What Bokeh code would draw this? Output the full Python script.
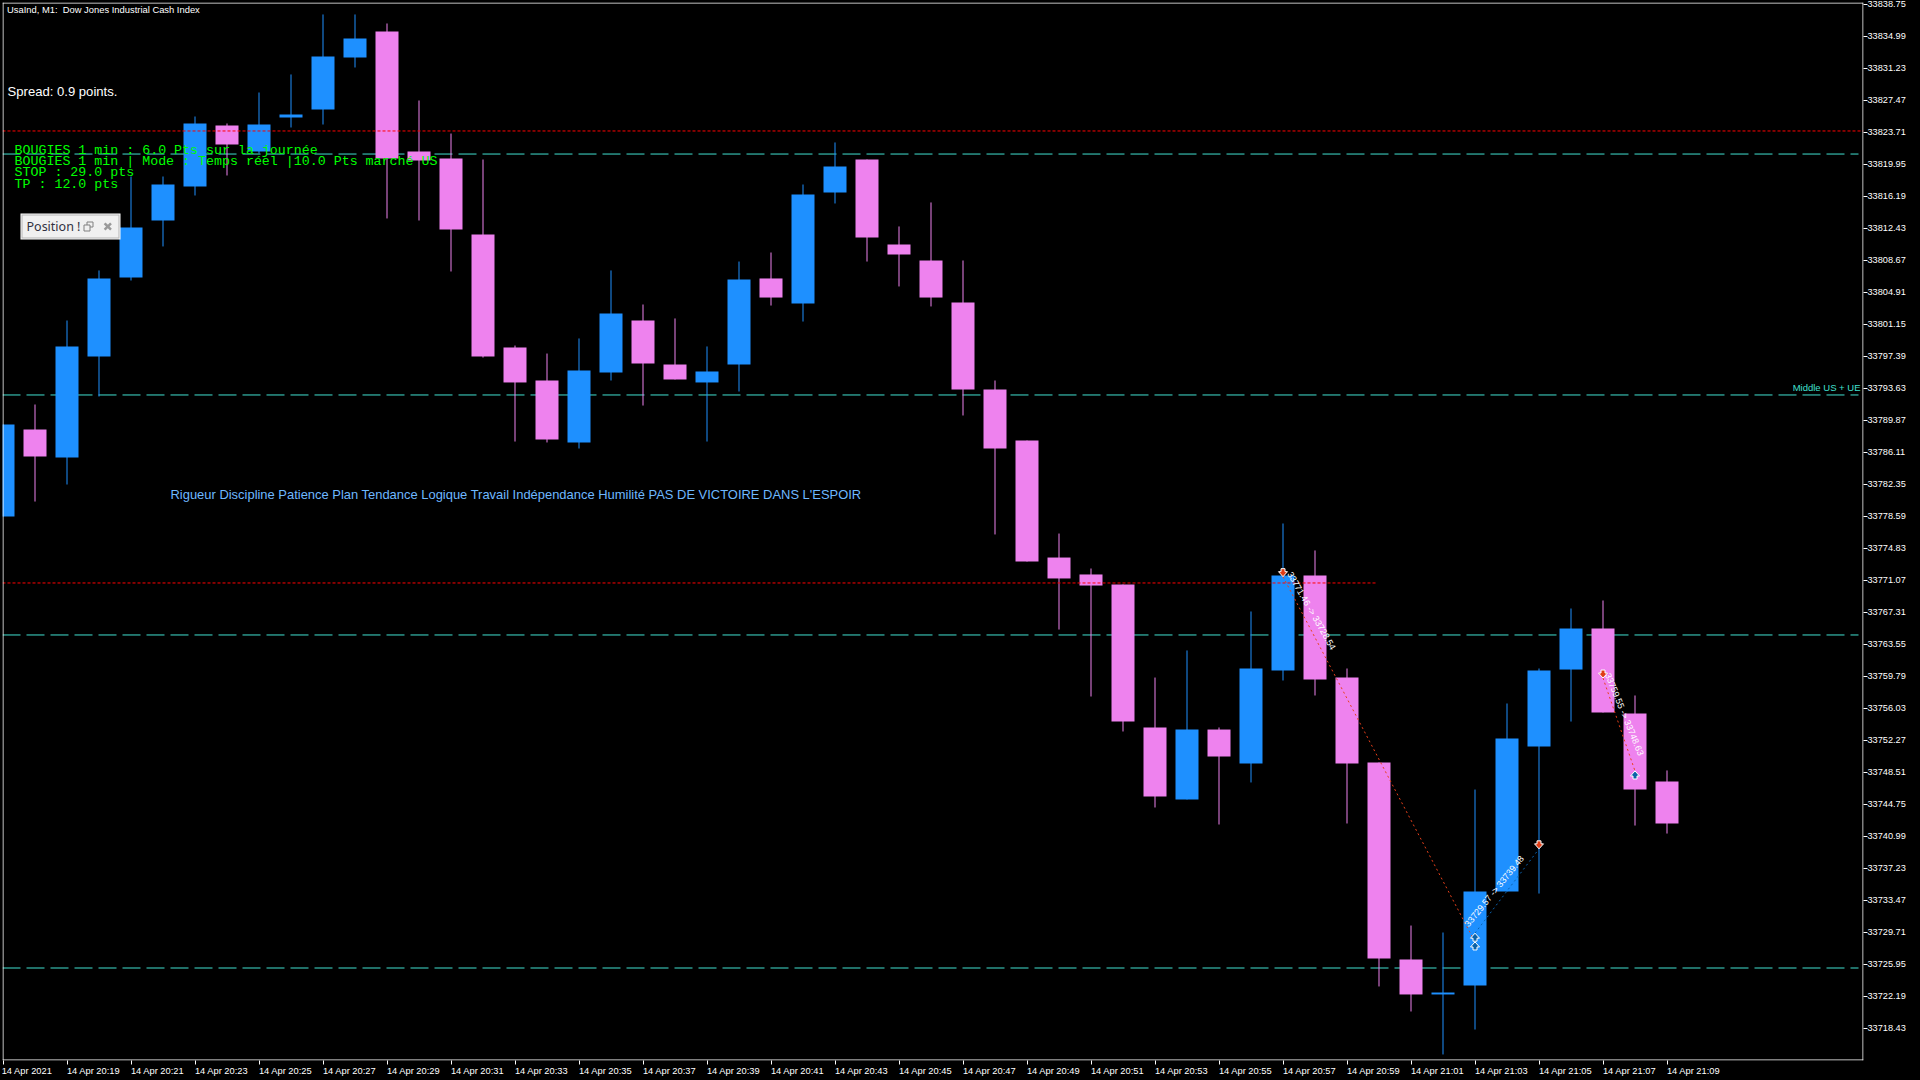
from bokeh.plotting import figure
from bokeh.embed import file_html
from bokeh.resources import INLINE
from bokeh.core.properties import value
from bokeh.models import Range1d, FixedTicker, NumeralTickFormatter, Span

opens = [33778.53,33788.75,33785.46,33797.33,33806.61,33813.31,33817.31,33824.47,33821.42,33825.41,33826.35,33832.46,33835.52,
         33821.42,33820.60,33811.67,33798.39,33794.51,33787.23,33795.45,33801.56,33796.39,33794.28,33796.39,33806.50,33803.56,33816.60,
         33820.48,33810.49,33808.61,33803.68,33793.45,33787.46,33773.71,33771.72,33770.54,33753.74,33745.28,33753.50,33749.51,33760.44,
         33771.60,33759.61,33749.63,33726.48,33722.37,33723.42,33734.47,33751.51,33760.55,33765.37,33755.38,33747.39]
closes = [33789.34,33785.58,33798.51,33806.50,33812.49,33817.54,33824.71,33822.24,33824.59,33825.77,33832.58,33834.70,33820.60,
          33820.36,33812.25,33797.33,33794.28,33787.58,33795.69,33802.38,33796.51,33794.63,33795.57,33806.38,33804.26,33816.37,33819.66,
          33811.31,33809.32,33804.26,33793.45,33786.52,33773.24,33771.25,33770.42,33754.44,33745.63,33753.50,33750.33,33760.67,33771.60,
          33759.38,33749.51,33726.60,33722.37,33722.60,33734.47,33752.45,33760.44,33765.37,33755.50,33746.45,33742.46]
highs = [33789.34,33791.69,33801.56,33807.44,33818.48,33818.48,33825.53,33824.71,33828.35,33830.47,33837.52,33837.52,33836.46,
         33827.41,33823.53,33820.48,33798.62,33797.68,33799.45,33807.44,33803.44,33801.80,33798.51,33808.49,33809.55,33817.54,33822.48,
         33820.48,33812.61,33815.43,33808.61,33794.51,33787.46,33776.53,33772.42,33770.54,33759.61,33762.79,33753.74,33767.37,33777.71,
         33774.54,33760.67,33749.63,33730.47,33729.65,33746.45,33756.56,33760.67,33767.72,33768.66,33757.50,33748.69]
lows = [33778.53,33780.29,33782.29,33792.63,33806.26,33810.26,33816.25,33818.60,33821.18,33824.24,33824.59,33831.29,33813.55,
        33813.31,33807.32,33797.21,33787.34,33787.23,33786.52,33794.51,33791.57,33794.63,33787.34,33793.22,33803.32,33801.44,33815.31,
        33808.49,33805.56,33803.21,33790.40,33776.42,33773.24,33765.25,33757.38,33753.27,33744.34,33745.28,33742.34,33747.28,33759.26,
        33757.50,33742.46,33723.31,33720.37,33715.32,33718.25,33734.47,33734.23,33754.44,33755.50,33742.22,33741.28]

y_tick_values = [33838.75,33834.99,33831.23,33827.47,33823.71,33819.95,33816.19,33812.43,33808.67,33804.91,33801.15,
                 33797.39,33793.63,33789.87,33786.11,33782.35,33778.59,33774.83,33771.07,33767.31,33763.55,33759.79,
                 33756.03,33752.27,33748.51,33744.75,33740.99,33737.23,33733.47,33729.71,33725.95,33722.19,33718.43]
x_tick_labels = ["14 Apr 2021","14 Apr 20:19","14 Apr 20:21","14 Apr 20:23","14 Apr 20:25","14 Apr 20:27","14 Apr 20:29",
                 "14 Apr 20:31","14 Apr 20:33","14 Apr 20:35","14 Apr 20:37","14 Apr 20:39","14 Apr 20:41","14 Apr 20:43",
                 "14 Apr 20:45","14 Apr 20:47","14 Apr 20:49","14 Apr 20:51","14 Apr 20:53","14 Apr 20:55","14 Apr 20:57",
                 "14 Apr 20:59","14 Apr 21:01","14 Apr 21:03","14 Apr 21:05","14 Apr 21:07","14 Apr 21:09"]

cyan_levels = [33821.12, 33792.81, 33764.61, 33725.48]
red_level_full = 33823.83
red_level_short = 33770.72

trade_entry_x = [40, 46, 50]
trade_entry_y = [33771.46, 33729.57, 33759.55]
trade_exit_x = [46, 48, 51]
trade_exit_y = [33728.54, 33739.48, 33748.63]
trade_labels = ["33771.46 -> 33728.54", "33729.57 -> 33739.48", "33759.55 -> 33748.63"]
sell_x = [40, 48, 50]
sell_y = [33771.46, 33739.48, 33759.55]
buy_x = [46, 46, 51]
buy_y = [33728.54, 33729.57, 33748.63]

BULL, BEAR = "#1E90FF", "#EE82EE"
CYAN, RED = "#40E0D0", "#FF0000"

# pixel geometry of the plot frame inside the 1920x1080 window
L, R, T, B = 2, 1863, 2, 1060
PX_PER_BAR, X0_PX = 32.0, 2.5
UNIT_PER_PX, Y0 = 0.1175, 33839.16125

def xd(px):
    return (px - X0_PX) / PX_PER_BAR

def yd(py):
    return Y0 - UNIT_PER_PX * py

p = figure(frame_width=R - L, frame_height=B - T, output_backend="svg", toolbar_location=None,
           x_range=Range1d(xd(L), xd(R)), y_range=Range1d(yd(B), yd(T)),
           y_axis_location="right", x_axis_location="below",
           min_border_left=L, min_border_right=1920 - R, min_border_top=T, min_border_bottom=1080 - B,
           background_fill_color="black", border_fill_color="black", outline_line_color=None)
p.grid.visible = False

AX_FONT = "Liberation Sans"
ax = p.yaxis[0]
ax.ticker = FixedTicker(ticks=y_tick_values)
ax.formatter = NumeralTickFormatter(format="0.00")
ax.axis_line_color = None
ax.major_tick_line_color = "white"
ax.major_tick_out, ax.major_tick_in = 4, 0
ax.minor_tick_line_color = None
ax.major_label_text_color = "white"
ax.major_label_text_font = AX_FONT
ax.major_label_text_font_size = "9.2px"
ax.major_label_standoff = 0

# time labels start at their tick: tick marks are the axis' minor ticks,
# and the centred labels sit half a label's width to the right of them
ax = p.xaxis[0]
bar_ticks = list(range(0, 2 * len(x_tick_labels), 2))
label_ticks = [t + (24.0 if t == 0 else 26.5) / PX_PER_BAR for t in bar_ticks]
ax.ticker = FixedTicker(ticks=label_ticks, minor_ticks=bar_ticks)
ax.major_label_overrides = dict(zip(label_ticks, x_tick_labels))
ax.axis_line_color = None
ax.major_tick_line_color = None
ax.major_tick_out, ax.major_tick_in = 0, 0
ax.minor_tick_line_color = "white"
ax.minor_tick_out, ax.minor_tick_in = 4, 0
ax.major_label_text_color = "white"
ax.major_label_text_font = AX_FONT
ax.major_label_text_font_size = "9.3px"
ax.major_label_standoff = 1

# support / resistance levels sit behind the candles
for lv in cyan_levels:
    p.segment(xd(L), lv, xd(1858), lv, line_color=CYAN, line_width=1, line_dash="18 6")

n = list(range(len(opens)))
colors = [BULL if c >= o else BEAR for o, c in zip(opens, closes)]
p.segment(n, lows, n, highs, line_color=colors, line_width=1)
p.vbar(x=n, width=23 / PX_PER_BAR, bottom=[min(a, b) for a, b in zip(opens, closes)],
       top=[max(a, b) for a, b in zip(opens, closes)], fill_color=colors, line_color=None)

p.segment(xd(L), red_level_full, xd(R), red_level_full, line_color=RED, line_width=1, line_dash="3 2")
p.segment(xd(L), red_level_short, xd(1375), red_level_short, line_color=RED, line_width=1, line_dash="3 2")

# closed trades
trade_colors = ["#E8401A", "#0A62B0", "#E8401A"]
p.segment(trade_entry_x, trade_entry_y, trade_exit_x, trade_exit_y, line_color=trade_colors, line_width=1, line_dash="2 3")

# arrow outline in pixels, tip at (0, 0), pointing down
ARROW_X = [-2, 2, 2, 4.5, 0, -4.5, -2]
ARROW_Y = [-8, -8, -5, -5, 0, -5, -5]

def arrows(xs, ys, direction, fill):
    px_x = [[X0_PX + i * PX_PER_BAR + dx for dx in ARROW_X] for i in xs]
    data_y = [[v - direction * dy * UNIT_PER_PX for dy in ARROW_Y] for v in ys]
    p.patches([[xd(a) for a in row] for row in px_x], data_y, fill_color=fill, line_color="white", line_width=1)

arrows(sell_x, sell_y, 1, "#E03C14")
arrows(buy_x, buy_y, -1, "#0B62A8")

def label(px, py, text, color, font, size, align="left", angle=0.0):
    p.text(x=[xd(px)], y=[yd(py)], text=[text], text_color=color, text_font=value(font), text_font_size=size,
           text_align=align, text_baseline="middle", angle=angle)

label(1289, 572, trade_labels[0], "white", "Liberation Sans", "9px", angle=-1.05)
label(1466, 925, trade_labels[1], "white", "Liberation Sans", "9px", angle=0.89)
label(1607, 673, trade_labels[2], "white", "Liberation Sans", "9px", angle=-1.18)

label(6.5, 8.5, "UsaInd, M1:\u00a0 Dow Jones Industrial Cash Index", "white", "Liberation Sans", "9.4px")
label(7, 91, "Spread: 0.9 points.", "white", "Liberation Sans", "13.1px")
label(14, 150, "BOUGIES 1 min : 6.0 Pts sur la journée", "#00FF00", "Liberation Mono", "13.3px")
label(14, 160.5, "BOUGIES 1 min | Mode : Temps réel |10.0 Pts marché US", "#00FF00", "Liberation Mono", "13.3px")
label(14, 172, "STOP : 29.0 pts", "#00FF00", "Liberation Mono", "13.3px")
label(14, 184, "TP : 12.0 pts", "#00FF00", "Liberation Mono", "13.3px")
label(170, 494, "Rigueur Discipline Patience Plan Tendance Logique Travail Indépendance Humilité PAS DE VICTOIRE DANS L'ESPOIR",
      "#6EB8FF", "Liberation Sans", "12.95px")
label(1860, 387, "Middle US + UE", CYAN, "Liberation Sans", "9.5px", align="right")

# floating "Position" panel
p.quad(left=[xd(20)], right=[xd(120)], top=[yd(213)], bottom=[yd(239)], fill_color="white", line_color=None)
p.quad(left=[xd(21)], right=[xd(119)], top=[yd(214)], bottom=[yd(238)], fill_color="#B4B4B4", line_color=None)
p.quad(left=[xd(22)], right=[xd(118)], top=[yd(215)], bottom=[yd(237)], fill_color="#F0F0F0", line_color=None)
label(26, 225.5, "Position !", "#303040", "Noto Sans", "12.5px")
p.quad(left=[xd(86.5)], right=[xd(92.5)], top=[yd(221.5)], bottom=[yd(226.5)], fill_color=None, line_color="#808080")
p.quad(left=[xd(83.5)], right=[xd(89.5)], top=[yd(224.5)], bottom=[yd(230.5)], fill_color="#F0F0F0", line_color="#808080")
p.scatter([xd(107.3)], [yd(226)], marker="x", size=9, line_color="#999999", line_width=2.5)

# chart frame
for loc in [xd(2.5), xd(1862.5)]:
    p.add_layout(Span(location=loc, dimension="height", line_color="white", line_width=1))
for loc in [yd(2.5), yd(1059.5)]:
    p.add_layout(Span(location=loc, dimension="width", line_color="white", line_width=1))

html = file_html(p, INLINE)
html = html.replace("<head>", "<head><style>html,body{margin:0;padding:0;background:#000;overflow:hidden}</style>", 1)
open("out.html", "w").write(html)
